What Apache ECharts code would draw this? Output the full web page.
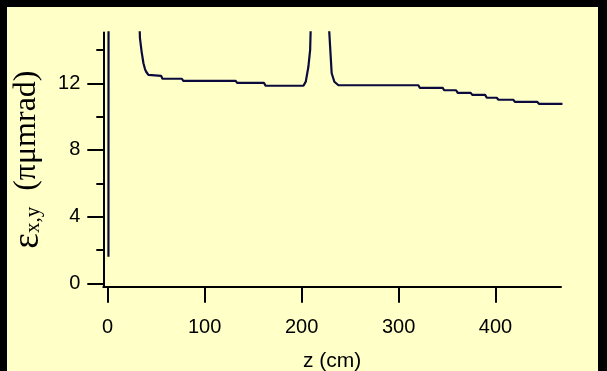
<!DOCTYPE html>
<html>
<head>
<meta charset="utf-8">
<script src="https://cdn.jsdelivr.net/npm/echarts@6/dist/echarts.min.js"></script>
<style>
  html, body { margin: 0; padding: 0; background: #000; width: 607px; height: 371px; overflow: hidden; }
  #bg { position: absolute; left: 7px; top: 7px; width: 591px; height: 364px; background: #FFFFC8; }
  #chart { position: absolute; left: 0; top: 0; width: 607px; height: 371px; }
</style>
</head>
<body>
<div id="bg"></div>
<div id="chart"></div>
<script>
// z (cm) and emittance (pi mm mrad); null breaks where the curve leaves the plot
var spikeZ = [0.8, 0.9];
var spikeV = [1.6, 16];
var leftZ = [32.6, 33.3, 35.0, 36.9, 38.5, 39.7, 42.0, 43.8, 55.2, 56.5, 76.5, 78.0, 132.0, 133.5, 161.3, 162.8, 201.9, 204.3, 207.0, 208.8, 209.7];
var leftV = [16, 14.7, 13.9, 13.2, 12.85, 12.69, 12.5, 12.44, 12.44, 12.27, 12.27, 12.14, 12.14, 12.02, 12.02, 11.85, 11.85, 12.1, 12.99, 14.0, 16];
var rightZ = [227.6, 231.0, 233.8, 238.0, 320.4, 322.0, 345.5, 347.0, 359.3, 361.0, 374.4, 376.0, 389.2, 391.0, 401.2, 403.0, 418.4, 420.0, 443.1, 445.0, 469.0];
var rightV = [16, 12.6, 12.09, 11.88, 11.88, 11.72, 11.72, 11.58, 11.58, 11.42, 11.42, 11.3, 11.3, 11.13, 11.13, 11.01, 11.01, 10.88, 10.88, 10.76, 10.76];
var xTicks = [0, 100, 200, 300, 400];
var yTicks = [0, 4, 8, 12];
var yMinorTicks = [2, 6, 10, 14];

function pairs(zs, vs) { return zs.map(function (z, i) { return [z, vs[i]]; }); }
var curve = [].concat(pairs(spikeZ, spikeV), [[null, null]], pairs(leftZ, leftV), [[null, null]], pairs(rightZ, rightV));

var chart = echarts.init(document.getElementById('chart'));
var axisCol = '#000';
chart.setOption({
  backgroundColor: 'transparent',
  animation: false,
  grid: { left: 103.3, right: 46, top: 32.4, bottom: 84.3, containLabel: false, outerBoundsMode: 'none' },
  xAxis: {
    type: 'value', min: -4.5, max: 467.5,
    name: 'z (cm)', nameLocation: 'middle', nameGap: 64,
    nameTextStyle: { fontFamily: 'Liberation Sans', fontSize: 21, color: '#000' },
    axisLine: { show: true, onZero: false, lineStyle: { color: axisCol, width: 2 } },
    axisTick: { show: true, inside: false, length: 16, customValues: xTicks, lineStyle: { color: axisCol, width: 2 } },
    axisLabel: { customValues: xTicks, margin: 31, fontFamily: 'Liberation Sans', fontSize: 20, color: '#000' },
    splitLine: { show: false }
  },
  yAxis: [{
    type: 'value', min: -0.2, max: 15.05, position: 'left',
    name: '{e|ε}{s|x,y}{n|  (πμmrad)}', nameLocation: 'middle', nameGap: 55, nameRotate: 90,
    nameTextStyle: {
      color: '#000',
      rich: {
        e: { fontFamily: 'Liberation Serif', fontSize: 37, color: '#000', verticalAlign: 'top', lineHeight: 34 },
        s: { fontFamily: 'Liberation Serif', fontSize: 21, color: '#000', verticalAlign: 'bottom', lineHeight: 20, padding: [14, 0, 0, 0] },
        n: { fontFamily: 'Liberation Serif', fontSize: 32, color: '#000', verticalAlign: 'top', lineHeight: 34 }
      }
    },
    axisLine: { show: true, onZero: false, lineStyle: { color: axisCol, width: 2 } },
    axisTick: { show: true, length: 16, customValues: yTicks, lineStyle: { color: axisCol, width: 2 } },
    axisLabel: { customValues: yTicks, margin: 23, fontFamily: 'Liberation Sans', fontSize: 20, color: '#000' },
    splitLine: { show: false }
  }, {
    type: 'value', min: -0.2, max: 15.05, position: 'left', offset: 0,
    axisLine: { show: false, onZero: false },
    axisTick: { show: true, length: 7, customValues: yMinorTicks, lineStyle: { color: axisCol, width: 2 } },
    axisLabel: { show: false },
    splitLine: { show: false }
  }],
  series: [{
    type: 'line', data: curve, yAxisIndex: 0,
    showSymbol: false, symbol: 'none', connectNulls: false, clip: true,
    lineStyle: { color: '#0a0a3c', width: 2.2 }
  }]
});
</script>
</body>
</html>
